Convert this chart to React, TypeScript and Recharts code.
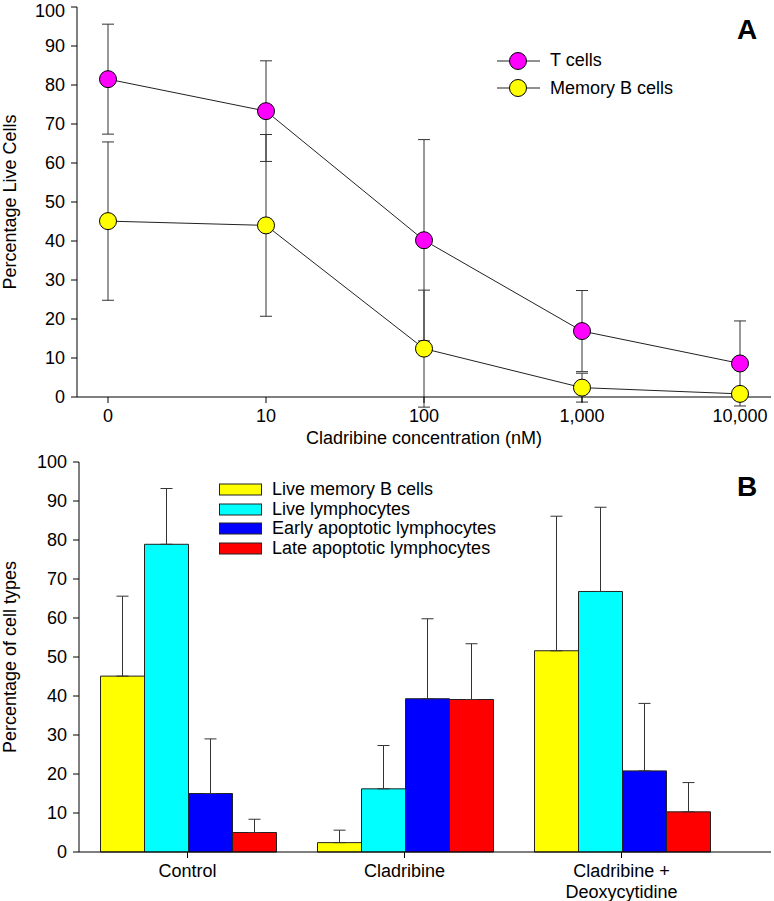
import React from 'react';
import {
  LineChart,
  Line,
  BarChart,
  Bar,
  XAxis,
  YAxis,
  ErrorBar,
  Legend,
} from 'recharts';

// Panel A: viability vs cladribine concentration
const concentrations = ['0', '10', '100', '1,000', '10,000'];
const tCells = [81.5, 73.3, 40.2, 16.9, 8.6];
const tCellsErr = [14.1, 12.9, 25.8, 10.4, 10.9];
const memoryB = [45.1, 44.0, 12.4, 2.4, 0.8];
const memoryBErr = [20.3, 23.3, 15.0, 3.7, 0.5];

// Panel B: cell types per treatment
const groups = ['Control', 'Cladribine', 'Cladribine +\nDeoxycytidine'];
const liveMemoryB = [45.1, 2.4, 51.6];
const liveMemoryBErr = [20.5, 3.2, 34.5];
const liveLymph = [78.9, 16.2, 66.8];
const liveLymphErr = [14.3, 11.1, 21.6];
const earlyApop = [15.0, 39.3, 20.8];
const earlyApopErr = [14.0, 20.5, 17.3];
const lateApop = [5.0, 39.1, 10.3];
const lateApopErr = [3.4, 14.3, 7.5];

const yTicks = [0, 10, 20, 30, 40, 50, 60, 70, 80, 90, 100];

const FONT = '"Liberation Sans", Arial, sans-serif';
const AXIS = '#000';
const FRAME = '#555';

const lineItems = [
  { name: 'T cells', color: '#FF00FF' },
  { name: 'Memory B cells', color: '#FFFF00' },
];

const barItems = [
  { key: 'liveB', name: 'Live memory B cells', color: '#FFFF00' },
  { key: 'liveL', name: 'Live lymphocytes', color: '#00FFFF' },
  { key: 'early', name: 'Early apoptotic lymphocytes', color: '#0000FF' },
  { key: 'late', name: 'Late apoptotic lymphocytes', color: '#FF0000' },
];

const dataA = concentrations.map((c, i) => ({
  conc: c,
  t: tCells[i],
  tErr: tCellsErr[i],
  b: memoryB[i],
  bErr: memoryBErr[i],
}));

const dataB = groups.map((g, i) => ({
  group: g,
  liveB: liveMemoryB[i],
  liveBErr: [0, liveMemoryBErr[i]],
  liveL: liveLymph[i],
  liveLErr: [0, liveLymphErr[i]],
  early: earlyApop[i],
  earlyErr: [0, earlyApopErr[i]],
  late: lateApop[i],
  lateErr: [0, lateApopErr[i]],
}));

const tickStyle = { fontSize: 18, fill: '#000', fontFamily: FONT };

function LineLegend() {
  return (
    <div style={{ fontFamily: FONT, fontSize: 18, color: '#000' }}>
      {lineItems.map((it) => (
        <div key={it.name} style={{ display: 'flex', alignItems: 'center', height: 27.5 }}>
          <svg width={53} height={20}>
            <line x1={0} y1={10} x2={43} y2={10} stroke="#222" strokeWidth={1} />
            <circle cx={21} cy={10} r={8.5} fill={it.color} stroke="#000" strokeWidth={1} />
          </svg>
          <span>{it.name}</span>
        </div>
      ))}
    </div>
  );
}

function BarLegend() {
  return (
    <div style={{ fontFamily: FONT, fontSize: 18, color: '#000' }}>
      {barItems.map((it) => (
        <div key={it.key} style={{ display: 'flex', alignItems: 'center', height: 19.5 }}>
          <svg width={53} height={13}>
            <rect x={0.5} y={1} width={42} height={11} fill={it.color} stroke="#222" strokeWidth={1} />
          </svg>
          <span>{it.name}</span>
        </div>
      ))}
    </div>
  );
}

function GroupTick(props: any) {
  const { x, y, payload } = props;
  const lines = String(payload.value).split('\n');
  return (
    <g transform={`translate(${x},${y})`}>
      <text textAnchor="middle" fontSize={18} fill="#000" fontFamily={FONT}>
        {lines.map((l, i) => (
          <tspan key={i} x={0} dy={i === 0 ? '0.71em' : 21}>
            {l}
          </tspan>
        ))}
      </text>
    </g>
  );
}

export default function App() {
  return (
    <div
      style={{
        position: 'absolute',
        left: 0,
        top: 0,
        width: 774,
        height: 901,
        background: '#fff',
        fontFamily: FONT,
      }}
    >
      <div style={{ position: 'absolute', left: 0, top: 0 }}>
        <LineChart width={774} height={450} data={dataA} margin={{ top: 7, right: 3, bottom: 0, left: 0 }}>
          <XAxis
            dataKey="conc"
            height={53}
            padding={{ left: 31, right: 31 }}
            tick={tickStyle}
            tickSize={6}
            tickMargin={6}
            axisLine={{ stroke: AXIS }}
            tickLine={{ stroke: AXIS }}
            label={{ value: 'Cladribine concentration (nM)', position: 'insideBottom', offset: 6, fontSize: 18, fill: '#000' }}
          />
          <XAxis xAxisId="top" orientation="top" dataKey="conc" height={0} tick={false} tickLine={false} axisLine={{ stroke: FRAME }} />
          <YAxis
            width={77}
            domain={[0, 100]}
            ticks={yTicks}
            allowDataOverflow
            tick={tickStyle}
            tickSize={6}
            tickMargin={6}
            axisLine={{ stroke: AXIS }}
            tickLine={{ stroke: AXIS }}
            label={{
              value: 'Percentage Live Cells',
              angle: -90,
              position: 'insideLeft',
              offset: 10,
              fontSize: 18,
              fill: '#000',
              style: { textAnchor: 'middle' },
            }}
          />
          <YAxis yAxisId="right" orientation="right" width={0} domain={[0, 100]} tick={false} tickLine={false} axisLine={{ stroke: FRAME }} />
          <Legend
            layout="vertical"
            align="center"
            verticalAlign="middle"
            wrapperStyle={{ left: 497, top: 47, width: 'auto' }}
            content={() => <LineLegend />}
          />
          <Line
            dataKey="t"
            stroke="#222"
            strokeWidth={1}
            isAnimationActive={false}
            dot={{ r: 8.5, fill: '#FF00FF', stroke: '#000', strokeWidth: 1, clipDot: false }}
            activeDot={false}
          >
            <ErrorBar dataKey="tErr" width={6} stroke="#333" strokeWidth={1} direction="y" />
          </Line>
          <Line
            dataKey="b"
            stroke="#222"
            strokeWidth={1}
            isAnimationActive={false}
            dot={{ r: 8.5, fill: '#FFFF00', stroke: '#000', strokeWidth: 1, clipDot: false }}
            activeDot={false}
          >
            <ErrorBar dataKey="bErr" width={6} stroke="#333" strokeWidth={1} direction="y" />
          </Line>
        </LineChart>
      </div>
      <div style={{ position: 'absolute', left: 737, top: 16, fontSize: 28, fontWeight: 'bold', lineHeight: '28px' }}>A</div>

      <div style={{ position: 'absolute', left: 0, top: 450 }}>
        <BarChart
          width={774}
          height={451}
          data={dataB}
          margin={{ top: 12, right: 3, bottom: 0, left: 0 }}
          barCategoryGap={21.5}
          barGap={0}
        >
          <XAxis
            dataKey="group"
            height={49}
            padding={{ left: 0, right: 41 }}
            tick={<GroupTick />}
            tickSize={6}
            tickMargin={6}
            interval={0}
            axisLine={{ stroke: AXIS }}
            tickLine={{ stroke: AXIS }}
          />
          <XAxis xAxisId="top" orientation="top" dataKey="group" height={0} tick={false} tickLine={false} axisLine={{ stroke: FRAME }} />
          <YAxis
            width={79}
            domain={[0, 100]}
            ticks={yTicks}
            tick={tickStyle}
            tickSize={6}
            tickMargin={6}
            axisLine={{ stroke: AXIS }}
            tickLine={{ stroke: AXIS }}
            label={{
              value: 'Percentage of cell types',
              angle: -90,
              position: 'insideLeft',
              offset: 10,
              fontSize: 18,
              fill: '#000',
              style: { textAnchor: 'middle' },
            }}
          />
          <YAxis yAxisId="right" orientation="right" width={0} domain={[0, 100]} tick={false} tickLine={false} axisLine={{ stroke: FRAME }} />
          <Legend
            layout="vertical"
            align="center"
            verticalAlign="middle"
            wrapperStyle={{ left: 219, top: 30, width: 'auto' }}
            content={() => <BarLegend />}
          />
          {barItems.map((it) => (
            <Bar key={it.key} dataKey={it.key} fill={it.color} stroke="#222" strokeWidth={1} isAnimationActive={false}>
              <ErrorBar dataKey={`${it.key}Err`} width={6} stroke="#333" strokeWidth={1} direction="y" />
            </Bar>
          ))}
        </BarChart>
      </div>
      <div style={{ position: 'absolute', left: 737, top: 473, fontSize: 28, fontWeight: 'bold', lineHeight: '28px' }}>B</div>
    </div>
  );
}
